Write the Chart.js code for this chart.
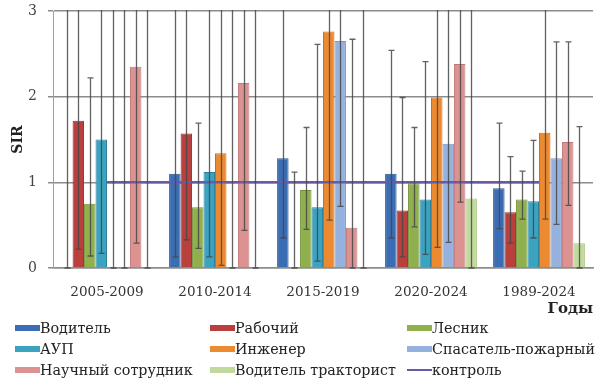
<!DOCTYPE html>
<html>
<head>
<meta charset="utf-8">
<script src="https://cdn.jsdelivr.net/npm/chart.js@4/dist/chart.umd.min.js"></script>
<style>
  body { margin: 0; background: #fff; }
  #wrap { position: relative; width: 596px; height: 380px; overflow: hidden; }
  #legend {
    position: absolute; left: 15px; top: 317px;
    display: grid; grid-template-columns: 195px 197px 200px; grid-auto-rows: 21px;
    font-family: "DejaVu Serif", serif; font-size: 14.3px; color: #222;
  }
  #legend .item { display: flex; align-items: center; white-space: nowrap; }
  #legend .box { width: 25px; height: 6px; flex: none; }
  #legend .ln { width: 25px; height: 2px; flex: none; }
</style>
</head>
<body>
<div id="wrap">
  <canvas id="chart" width="596" height="380"></canvas>
  <div id="legend"></div>
</div>
<script>
// ---- data ----
var categories = ['2005-2009', '2010-2014', '2015-2019', '2020-2024', '1989-2024'];

// SIR per group; 0 = no bar
var voditel    = [0,    1.10, 1.28, 1.10, 0.93];
var rabochiy   = [1.72, 1.57, 0,    0.67, 0.65];
var lesnik     = [0.75, 0.71, 0.91, 0.99, 0.80];
var aup        = [1.50, 1.12, 0.71, 0.80, 0.78];
var inzhener   = [0,    1.34, 2.76, 1.99, 1.58];
var spasatel   = [0,    0,    2.65, 1.45, 1.28];
var nauchny    = [2.35, 2.16, 0.47, 2.38, 1.47];
var traktorist = [0,    0,    0,    0.81, 0.29];
var kontrol    = [1, 1, 1, 1, 1];

// confidence intervals (upper ends above 3 run off the axis)
var voditelLo    = [0,    0.13, 0.35, 0.35, 0.46];
var voditelHi    = [3.5,  3.5,  3.5,  2.54, 1.69];
var rabochiyLo   = [0.22, 0.33, 0,    0.13, 0.29];
var rabochiyHi   = [3.5,  3.5,  1.12, 1.99, 1.30];
var lesnikLo     = [0.14, 0.23, 0.45, 0.48, 0.57];
var lesnikHi     = [2.22, 1.69, 1.64, 1.64, 1.13];
var aupLo        = [0.17, 0.13, 0.08, 0.16, 0.35];
var aupHi        = [3.5,  3.5,  2.61, 2.41, 1.49];
var inzhenerLo   = [0,    0.03, 0.56, 0.24, 0.57];
var inzhenerHi   = [3.5,  3.5,  3.5,  3.5,  3.5];
var spasatelLo   = [0,    0,    0.72, 0.30, 0.51];
var spasatelHi   = [3.5,  3.5,  3.5,  3.5,  2.64];
var nauchnyLo    = [0.29, 0.44, 0,    0.77, 0.73];
var nauchnyHi    = [3.5,  3.5,  2.67, 3.5,  2.64];
var traktoristLo = [0,    0,    0,    0,    0];
var traktoristHi = [3.5,  3.5,  3.5,  3.5,  1.65];

var yTicks = [0, 1, 2, 3];

function bar(label, data, lo, hi, color, edge) {
  return {
    type: 'bar', label: label, data: data, lo: lo, hi: hi,
    backgroundColor: color, borderColor: edge, borderWidth: 1,
    order: 2
  };
}

// ---- error bars ----
var errorBars = {
  id: 'errorBars',
  afterDatasetsDraw: function(chart) {
    var ctx = chart.ctx, area = chart.chartArea, y = chart.scales.y;
    ctx.save();
    ctx.beginPath();
    ctx.rect(area.left, area.top - 1, area.right - area.left, area.bottom - area.top + 2);
    ctx.clip();
    ctx.strokeStyle = 'rgba(70,70,70,0.85)';
    ctx.lineWidth = 1.3;
    chart.data.datasets.forEach(function(ds, di) {
      if (!ds.lo) return;
      var meta = chart.getDatasetMeta(di);
      meta.data.forEach(function(el, i) {
        var x = Math.round(el.x) + 0.5;
        var yLo = y.getPixelForValue(ds.lo[i]);
        var yHi = y.getPixelForValue(ds.hi[i]);
        ctx.beginPath();
        ctx.moveTo(x, yLo);
        ctx.lineTo(x, yHi);
        if (ds.hi[i] <= 3) { ctx.moveTo(x - 3, yHi); ctx.lineTo(x + 3, yHi); }
        ctx.moveTo(x - 3, yLo); ctx.lineTo(x + 3, yLo);
        ctx.stroke();
      });
    });
    ctx.restore();
  }
};

var serif = 'DejaVu Serif';
var ctx = document.getElementById('chart').getContext('2d');

var chart = new Chart(ctx, {
  data: {
    labels: categories,
    datasets: [
      bar('Водитель', voditel, voditelLo, voditelHi, '#3a6db3', '#2c5592'),
      bar('Рабочий', rabochiy, rabochiyLo, rabochiyHi, '#b9403d', '#93302e'),
      bar('Лесник', lesnik, lesnikLo, lesnikHi, '#8fb04c', '#74913b'),
      bar('АУП', aup, aupLo, aupHi, '#3ba2c0', '#2c829c'),
      bar('Инженер', inzhener, inzhenerLo, inzhenerHi, '#ec8a31', '#c86f20'),
      bar('Спасатель-пожарный', spasatel, spasatelLo, spasatelHi, '#95b1de', '#7d98c6'),
      bar('Научный сотрудник', nauchny, nauchnyLo, nauchnyHi, '#db9291', '#c07876'),
      bar('Водитель тракторист', traktorist, traktoristLo, traktoristHi, '#c2d99d', '#a9c283'),
      {
        type: 'line', label: 'контроль', data: kontrol,
        borderColor: '#6a5aa6', borderWidth: 2.5, pointRadius: 0,
        fill: false, order: 1
      }
    ]
  },
  options: {
    responsive: false,
    animation: false,
    events: [],
    layout: { padding: { top: 11, right: 3, left: 0, bottom: 62 } },
    datasets: { bar: { categoryPercentage: 0.85, barPercentage: 1 } },
    plugins: { legend: { display: false }, tooltip: { enabled: false } },
    scales: {
      x: {
        grid: { display: false },
        border: { display: true, color: '#8c8c8c', width: 1.5 },
        ticks: { color: '#333', padding: 8, font: { family: serif, size: 13.5 } },
        title: {
          display: true, text: 'Годы', align: 'end', color: '#222',
          padding: { top: 8, bottom: 0 },
          font: { family: serif, size: 15, weight: 'bold' }
        },
        afterFit: function(s) { s.height = 50; }
      },
      y: {
        min: 0, max: 3,
        afterBuildTicks: function(s) { s.ticks = yTicks.map(function(v) { return { value: v }; }); },
        grid: { color: '#8c8c8c', lineWidth: 1.5, tickLength: 5 },
        border: { display: true, color: '#a0a0a0', width: 1 },
        ticks: { color: '#444', padding: 11, font: { family: serif, size: 14 } },
        title: {
          display: true, text: 'SIR', color: '#222',
          padding: { top: 10, bottom: 0 },
          font: { family: serif, size: 14, weight: 'bold' }
        },
        afterFit: function(s) { s.width = 53; s.paddingTop = 0; s.paddingBottom = 0; }
      }
    }
  },
  plugins: [errorBars]
});

// ---- legend (3 columns) ----
var legend = document.getElementById('legend');
chart.data.datasets.forEach(function(ds) {
  var item = document.createElement('div');
  item.className = 'item';
  var mark = document.createElement('span');
  if (ds.type === 'line') {
    mark.className = 'ln';
    mark.style.background = ds.borderColor;
  } else {
    mark.className = 'box';
    mark.style.background = ds.backgroundColor;
  }
  item.appendChild(mark);
  item.appendChild(document.createTextNode(ds.label));
  legend.appendChild(item);
});
</script>
</body>
</html>
